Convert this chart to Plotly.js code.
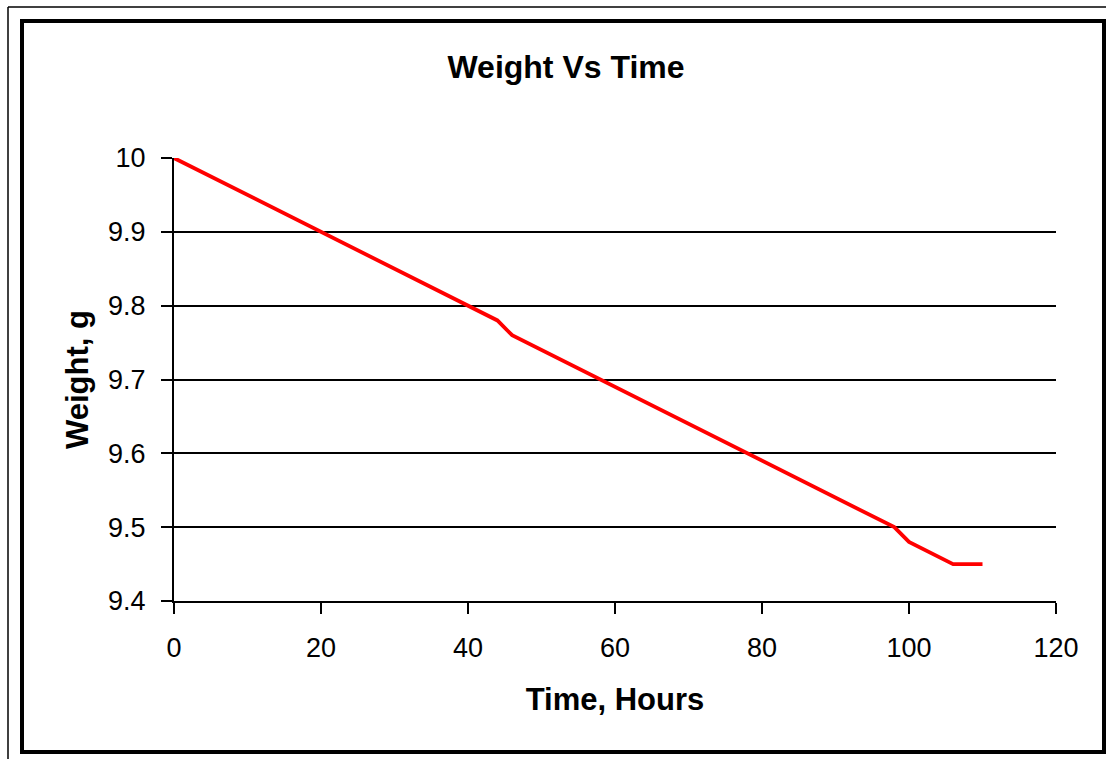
<!DOCTYPE html>
<html>
<head>
<meta charset="utf-8">
<script src="https://cdn.plot.ly/plotly-3.0.1.min.js"></script>
<style>
  html, body { margin: 0; padding: 0; background: #fff; }
  #chart { width: 1106px; height: 759px; }
</style>
</head>
<body>
<div id="chart"></div>
<script>
// Sample weight readings taken every two hours
const timeHours = [0, 2, 4, 6, 8, 10, 12, 14, 16, 18, 20, 22, 24, 26, 28, 30, 32, 34, 36, 38,
  40, 42, 44, 46, 48, 50, 52, 54, 56, 58, 60, 62, 64, 66, 68, 70, 72, 74, 76, 78,
  80, 82, 84, 86, 88, 90, 92, 94, 96, 98, 100, 102, 104, 106, 108, 110];
const weightG = [10.00, 9.99, 9.98, 9.97, 9.96, 9.95, 9.94, 9.93, 9.92, 9.91, 9.90, 9.89, 9.88, 9.87, 9.86, 9.85, 9.84, 9.83, 9.82, 9.81,
  9.80, 9.79, 9.78, 9.76, 9.75, 9.74, 9.73, 9.72, 9.71, 9.70, 9.69, 9.68, 9.67, 9.66, 9.65, 9.64, 9.63, 9.62, 9.61, 9.60,
  9.59, 9.58, 9.57, 9.56, 9.55, 9.54, 9.53, 9.52, 9.51, 9.50, 9.48, 9.47, 9.46, 9.45, 9.45, 9.45];
const yTickValues = [9.4, 9.5, 9.6, 9.7, 9.8, 9.9, 10];
const yTickLabels = ['9.4', '9.5', '9.6', '9.7', '9.8', '9.9', '10'];
const xTickValues = [0, 20, 40, 60, 80, 100, 120];

// Page frame geometry in pixels, converted to paper coordinates
const W = 1106, H = 759;
const M = { l: 174, r: 50, t: 158, b: 158 };
const pw = W - M.l - M.r, ph = H - M.t - M.b;
const px = v => (v - M.l) / pw;
const py = v => (H - M.b - v) / ph;

const FONT = 'Liberation Sans, Arial, sans-serif';

const shapes = [
  // thin outer rule along the top and left
  { type: 'line', xref: 'paper', yref: 'paper', x0: px(8), x1: px(1106), y0: py(7), y1: py(7),
    line: { color: '#000', width: 1.5 } },
  { type: 'line', xref: 'paper', yref: 'paper', x0: px(8), x1: px(8), y0: py(7), y1: py(759),
    line: { color: '#000', width: 1.5 } },
  // heavy chart border
  { type: 'rect', xref: 'paper', yref: 'paper', x0: px(22), x1: px(1104), y0: py(21), y1: py(752),
    line: { color: '#000', width: 4 } }
];

const trace = {
  x: timeHours,
  y: weightG,
  type: 'scatter',
  mode: 'lines',
  line: { color: '#ff0000', width: 3.8 },
  hoverinfo: 'x+y'
};

const layout = {
  width: W,
  height: H,
  margin: M,
  paper_bgcolor: '#fff',
  plot_bgcolor: '#fff',
  showlegend: false,
  title: {
    text: '<b>Weight Vs Time</b>',
    font: { family: FONT, size: 32, color: '#000' },
    xref: 'container', x: 566 / W, xanchor: 'center',
    yref: 'container', y: 1 - 67 / H, yanchor: 'middle'
  },
  xaxis: {
    range: [0, 120],
    tickvals: xTickValues,
    ticktext: xTickValues.map(String),
    showgrid: false,
    zeroline: false,
    showline: true,
    linecolor: '#000',
    linewidth: 2,
    ticks: 'outside',
    ticklen: 11,
    tickwidth: 2,
    tickcolor: '#000',
    ticklabelstandoff: 11,
    tickfont: { family: FONT, size: 27, color: '#000' },
    title: { text: '<b>Time, Hours</b>', font: { family: FONT, size: 31, color: '#000' }, standoff: 26 }
  },
  yaxis: {
    range: [9.4, 10],
    tickvals: yTickValues,
    ticktext: yTickLabels,
    showgrid: true,
    gridcolor: '#000',
    gridwidth: 2,
    zeroline: false,
    showline: true,
    linecolor: '#000',
    linewidth: 2,
    ticks: 'outside',
    ticklen: 11,
    tickwidth: 2,
    tickcolor: '#000',
    ticklabelstandoff: 10,
    tickfont: { family: FONT, size: 27, color: '#000' },
    title: { text: '<b>Weight, g</b>', font: { family: FONT, size: 31, color: '#000' }, standoff: 10 }
  },
  shapes: shapes
};

Plotly.newPlot('chart', [trace], layout, { displayModeBar: false, staticPlot: true });
</script>
</body>
</html>
